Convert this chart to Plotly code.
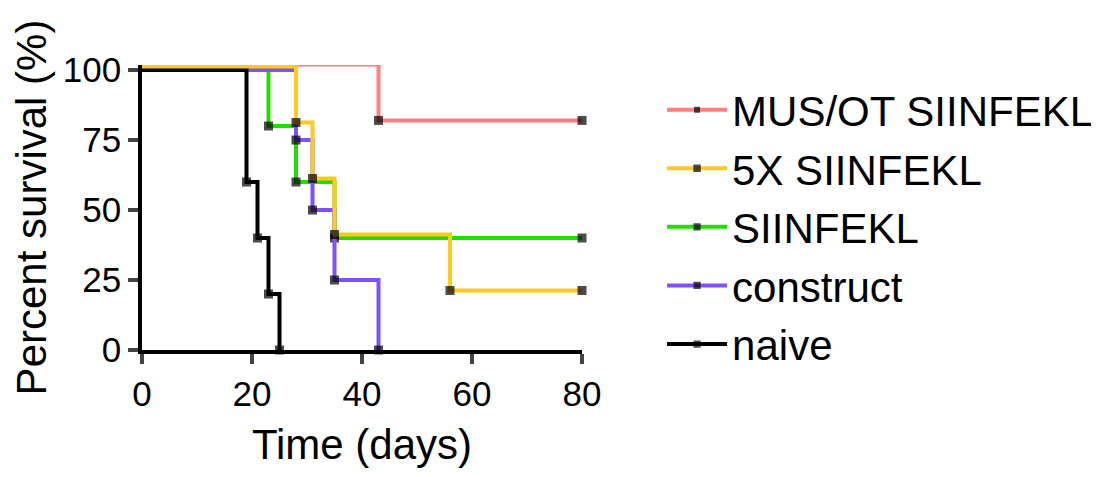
import plotly.graph_objects as go

# Data (Kaplan-Meier steps): time in days, percent survival
names = ["MUS/OT SIINFEKL", "5X SIINFEKL", "SIINFEKL", "construct", "naive"]
mus_t = [0, 43, 80]
mus_s = [100, 80, 80]
x5_t = [0, 28, 31, 35, 56, 80]
x5_s = [100, 80, 60, 40, 20, 20]
sii_t = [0, 23, 28, 35, 80]
sii_s = [100, 80, 60, 40, 40]
con_t = [0, 28, 31, 35, 43]
con_s = [100, 75, 50, 25, 0]
nai_t = [0, 19, 21, 23, 25]
nai_s = [100, 60, 40, 20, 0]

x_ticks = [0, 20, 40, 60, 80]
y_ticks = [0, 25, 50, 75, 100]

series = [
    (names[0], mus_t, mus_s, "#FF7F7F", "y2"),
    (names[1], x5_t, x5_s, "#FFC920", "y3"),
    (names[2], sii_t, sii_s, "#22DD00", "y"),
    (names[3], con_t, con_s, "#8050FF", "y"),
    (names[4], nai_t, nai_s, "#000000", "y"),
]

FONT = "Arial, Liberation Sans, sans-serif"
fig = go.Figure()
for i, (name, t, s, col, ya) in enumerate(series):
    sizes = [0] + [9] * (len(t) - 1)
    fig.add_trace(go.Scatter(
        x=t, y=s, name=name, mode="lines+markers", legendgroup=f"g{i}",
        line=dict(shape="hv", color=col, width=4),
        marker=dict(symbol="square", color="black", size=sizes, line=dict(width=0)),
        cliponaxis=False, yaxis=ya,
    ))

ytop = 101.8
fig.update_layout(
    width=1091, height=469,
    margin=dict(l=134, r=517, t=57, b=127, autoexpand=False),
    paper_bgcolor="white", plot_bgcolor="white",
    font=dict(family=FONT, color="black"),
    xaxis=dict(range=[0, 80], tickvals=x_ticks, ticks="outside", ticklen=10, tickwidth=3.5,
               showline=True, linecolor="black", linewidth=3.5, showgrid=False, zeroline=False,
               tickfont=dict(size=35, family=FONT), automargin=False,
               title=dict(text="Time (days)", font=dict(size=42, family=FONT), standoff=19)),
    yaxis=dict(range=[0, ytop], tickvals=y_ticks, ticks="outside", ticklen=10, tickwidth=3.5,
               showline=True, linecolor="black", linewidth=3.5, showgrid=False, zeroline=False,
               tickfont=dict(size=35, family=FONT), automargin=False,
               title=dict(text="Percent survival (%)", font=dict(size=42, family=FONT), standoff=16)),
    yaxis2=dict(range=[-2.0, ytop - 2.0], overlaying="y", visible=False),
    yaxis3=dict(range=[-1.25, ytop - 1.25], overlaying="y", visible=False),
    legend=dict(x=1.182, y=0.962, xanchor="left", yanchor="top",
                font=dict(size=42, family=FONT), bgcolor="rgba(0,0,0,0)",
                tracegroupgap=1, itemwidth=60, traceorder="grouped", maxheight=400),
    showlegend=True,
)
fig.write_html("out.html")
